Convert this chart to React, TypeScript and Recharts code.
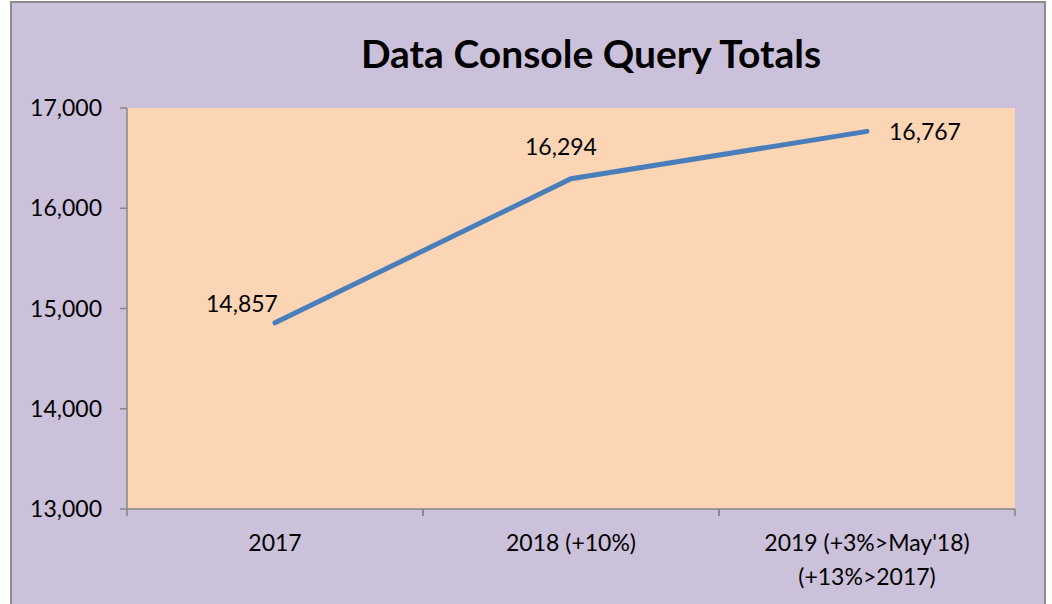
import { LineChart, Line, XAxis, YAxis, CartesianGrid, LabelList } from 'recharts';

const CATEGORIES = ['2017', '2018 (+10%)', "2019 (+3%>May'18)\n(+13%>2017)"];
const QUERY_TOTALS = [14857, 16294, 16767];
const Y_TICKS = [13000, 14000, 15000, 16000, 17000];

// where each value label sits relative to its point (Excel placed them by hand)
const LABEL_OFFSETS = [
    { dx: -33, dy: -19 },
    { dx: -10, dy: -32 },
    { dx: 58, dy: 1 },
];

const W = 1052;
const H = 604;
const MARGIN = { top: 108, right: 37, bottom: 0, left: 10 };
const Y_AXIS_W = 117;
const PLOT_W = W - MARGIN.left - Y_AXIS_W - MARGIN.right;
const BAND = PLOT_W / CATEGORIES.length;
const FONT = 'Lato, "Open Sans", sans-serif';
const AXIS_GRAY = '#868686';
const FS = 23;

const data = CATEGORIES.map((name, i) => ({ name, total: QUERY_TOTALS[i] }));

const fmt = (v: number) => v.toLocaleString('en-US');

function CategoryTick(props: any) {
    const { x, y, payload } = props;
    const lines = String(payload.value).split('\n');
    return (
        <g>
            <line x1={x - BAND / 2} x2={x - BAND / 2} y1={y} y2={y + 7} stroke={AXIS_GRAY} strokeWidth={1.5} />
            <line x1={x + BAND / 2} x2={x + BAND / 2} y1={y} y2={y + 7} stroke={AXIS_GRAY} strokeWidth={1.5} />
            {lines.map((ln, i) => (
                <text key={i} x={x} y={y + 42 + i * 34} textAnchor="middle" fill="#000" fontSize={FS} fontFamily={FONT}>
                    {ln}
                </text>
            ))}
        </g>
    );
}

function ValueLabel(props: any) {
    const { x, y, value, index } = props;
    const off = LABEL_OFFSETS[index] || { dx: 0, dy: -20 };
    return (
        <text x={x + off.dx} y={y + off.dy + 8} textAnchor="middle" fill="#000" fontSize={FS} fontFamily={FONT}>
            {fmt(value)}
        </text>
    );
}

export default function App() {
    return (
        <div style={{ position: 'absolute', left: 0, top: 0, width: W, height: H, background: '#fff', overflow: 'hidden' }}>
            <div
                style={{
                    position: 'absolute',
                    left: 10,
                    top: 1,
                    width: 1032,
                    height: 640,
                    background: '#CCC1DA',
                    border: '2px solid #8c8c8c',
                }}
            />
            <svg width={W} height={90} style={{ position: 'absolute', left: 0, top: 0 }}>
                <text x={591} y={68} textAnchor="middle" fontSize={39} fontWeight={700} fontFamily={FONT} fill="#000">
                    Data Console Query Totals
                </text>
            </svg>
            <div style={{ position: 'absolute', left: 0, top: 0 }}>
                <LineChart width={W} height={H} data={data} margin={MARGIN}>
                    <CartesianGrid horizontal={false} vertical={false} fill="#FCD5B5" />
                    <XAxis
                        dataKey="name"
                        height={95}
                        interval={0}
                        padding={{ left: BAND / 2, right: BAND / 2 }}
                        tickLine={false}
                        tickSize={0}
                        tickMargin={0}
                        axisLine={{ stroke: AXIS_GRAY, strokeWidth: 1.5 }}
                        tick={<CategoryTick />}
                    />
                    <YAxis
                        width={Y_AXIS_W}
                        domain={[13000, 17000]}
                        ticks={Y_TICKS}
                        tickFormatter={fmt}
                        tickSize={7}
                        tickMargin={18}
                        axisLine={{ stroke: AXIS_GRAY, strokeWidth: 1.5 }}
                        tickLine={{ stroke: AXIS_GRAY, strokeWidth: 1.5 }}
                        tick={{ fill: '#000', fontSize: FS, fontFamily: FONT }}
                    />
                    <Line
                        type="linear"
                        dataKey="total"
                        stroke="#4A7EBB"
                        strokeWidth={5}
                        strokeLinecap="round"
                        dot={false}
                        isAnimationActive={false}
                    >
                        <LabelList dataKey="total" content={<ValueLabel />} />
                    </Line>
                </LineChart>
            </div>
        </div>
    );
}
